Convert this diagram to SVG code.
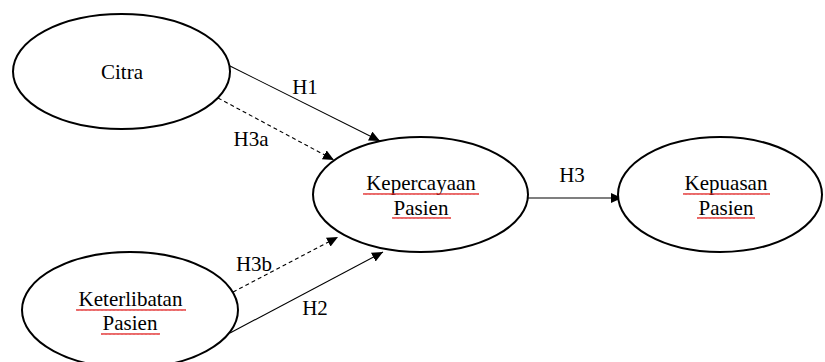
<svg xmlns="http://www.w3.org/2000/svg" width="825" height="362" viewBox="0 0 825 362">
<defs>
<marker id="ah" markerUnits="userSpaceOnUse" markerWidth="12" markerHeight="10" refX="11" refY="5" orient="auto">
<path d="M0,0 L11,5 L0,10 Z" fill="#000"/>
</marker>
<pattern id="sq" width="4" height="4" patternUnits="userSpaceOnUse">
<path d="M0,3 L1,1 L2,3 L3,1 L4,3" fill="none" stroke="#e02020" stroke-width="0.8"/>
</pattern>
</defs>
<style>
.node{fill:#fff;stroke:#000;stroke-width:2}
.t{font-family:"Liberation Serif","Times New Roman",serif;font-size:21px;fill:#000;text-anchor:middle}
.c{stroke:#000;stroke-width:1.1;fill:none;marker-end:url(#ah)}
.d{stroke-dasharray:4,3}
.u{fill:url(#sq)}
</style>
<rect width="825" height="362" fill="#fff"/>
<g id="connectors">
<line class="c" x1="230" y1="66" x2="380" y2="141"/>
<line class="c d" x1="218" y1="98" x2="334" y2="160"/>
<line class="c d" x1="233" y1="292" x2="338" y2="237"/>
<line class="c" x1="230" y1="333" x2="383" y2="252"/>
<line class="c" x1="528" y1="198" x2="622" y2="198"/>
<text class="t" x="305" y="94">H1</text>
<text class="t" x="251" y="146">H3a</text>
<text class="t" x="254" y="271">H3b</text>
<text class="t" x="315" y="315">H2</text>
<text class="t" x="572" y="182">H3</text>
</g>
<g id="citra">
<ellipse class="node" cx="121.5" cy="71.5" rx="108.5" ry="57.5"/>
<text class="t" x="122" y="79">Citra</text>
</g>
<g id="keterlibatan">
<ellipse class="node" cx="130" cy="310" rx="108" ry="58"/>
<text class="t" x="130.5" y="306">Keterlibatan</text>
<text class="t" x="130" y="330">Pasien</text>
<rect class="u" x="76" y="307" width="110" height="4"/>
<rect class="u" x="101" y="332" width="59" height="4"/>
</g>
<g id="kepercayaan">
<ellipse class="node" cx="420.5" cy="194.5" rx="107.5" ry="57.5"/>
<text class="t" x="421" y="190">Kepercayaan</text>
<text class="t" x="421" y="215">Pasien</text>
<rect class="u" x="363" y="191" width="116" height="4"/>
<rect class="u" x="392" y="217" width="59" height="4"/>
</g>
<g id="kepuasan">
<ellipse class="node" cx="720" cy="194.5" rx="102" ry="57.5"/>
<text class="t" x="726" y="190">Kepuasan</text>
<text class="t" x="726" y="215">Pasien</text>
<rect class="u" x="683" y="191" width="87" height="4"/>
<rect class="u" x="697" y="217" width="58" height="4"/>
</g>
</svg>
